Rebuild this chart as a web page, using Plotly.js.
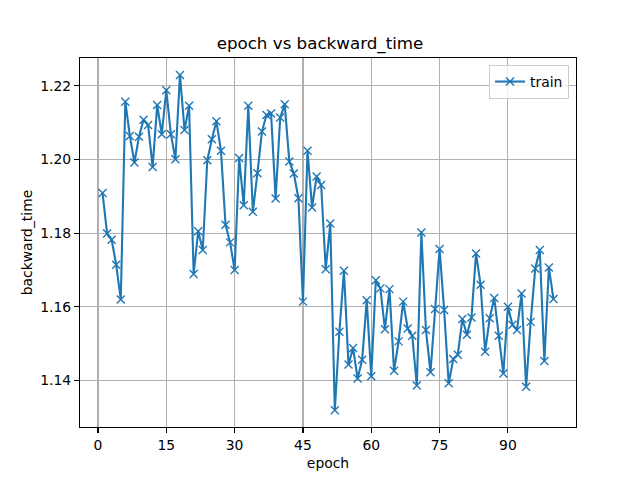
<!DOCTYPE html>
<html>
<head>
<meta charset="utf-8">
<script src="https://cdn.plot.ly/plotly-3.0.1.min.js"></script>
<style>html,body{margin:0;padding:0;background:#fff}#chart{width:640px;height:480px}</style>
</head>
<body>
<div id="chart"></div>
<script>
const epochs = Array.from({length: 100}, (_, i) => i + 1);
const backwardTime = [
  1.1909, 1.1799, 1.1782, 1.1714, 1.1620, 1.2157, 1.2064, 1.1992, 1.2062, 1.2108,
  1.2094, 1.1980, 1.2148, 1.2069, 1.2188, 1.2069, 1.2001, 1.2230, 1.2080, 1.2146,
  1.1689, 1.1805, 1.1754, 1.1998, 1.2055, 1.2104, 1.2024, 1.1823, 1.1775, 1.1700,
  1.2004, 1.1876, 1.2146, 1.1858, 1.1963, 1.2076, 1.2121, 1.2125, 1.1894, 1.2114,
  1.2150, 1.1995, 1.1962, 1.1895, 1.1614, 1.2024, 1.1870, 1.1954, 1.1931, 1.1702,
  1.1826, 1.1319, 1.1532, 1.1698, 1.1443, 1.1488, 1.1405, 1.1456, 1.1618, 1.1411,
  1.1672, 1.1650, 1.1539, 1.1648, 1.1426, 1.1506, 1.1614, 1.1541, 1.1521, 1.1386,
  1.1802, 1.1537, 1.1422, 1.1594, 1.1757, 1.1591, 1.1392, 1.1458, 1.1470, 1.1567,
  1.1524, 1.1571, 1.1745, 1.1660, 1.1478, 1.1569, 1.1624, 1.1521, 1.1419, 1.1600,
  1.1551, 1.1537, 1.1636, 1.1383, 1.1559, 1.1704, 1.1754, 1.1453, 1.1707, 1.1621
];
const xTicks = [0, 15, 30, 45, 60, 75, 90];
const yTicks = [1.14, 1.16, 1.18, 1.20, 1.22];
const yTickLabels = ["1.14", "1.16", "1.18", "1.20", "1.22"];

const font = {family: "DejaVu Sans", size: 13.9, color: "#000"};
const trace = {
  x: epochs, y: backwardTime, type: "scatter", mode: "lines+markers", name: "train",
  line: {color: "#1f77b4", width: 2.1},
  marker: {symbol: "x-thin", size: 8, color: "#1f77b4", line: {color: "#1f77b4", width: 1.4}}
};
const layout = {
  width: 640, height: 480,
  margin: {l: 80, r: 64, t: 58, b: 53, pad: 0},
  paper_bgcolor: "#fff", plot_bgcolor: "#fff",
  font: font,
  title: {text: "epoch vs backward_time", font: {family: "DejaVu Sans", size: 16.7, color: "#000"},
          x: 0.5, xanchor: "center", y: 1 - 43/480, yanchor: "middle"},
  xaxis: {
    title: {text: "epoch", font: font, standoff: 6},
    range: [-3.95, 104.95], tickvals: xTicks, ticktext: xTicks.map(String),
    showgrid: true, gridcolor: "#b0b0b0", gridwidth: 1.1,
    showline: true, linecolor: "#000", linewidth: 1.1, mirror: true,
    ticks: "outside", ticklen: 4.9, tickwidth: 1.1, tickcolor: "#000",
    zeroline: false, tickfont: font
  },
  yaxis: {
    title: {text: "backward_time", font: font, standoff: 4},
    range: [1.12734, 1.22759], tickvals: yTicks, ticktext: yTickLabels,
    showgrid: true, gridcolor: "#b0b0b0", gridwidth: 1.1,
    showline: true, linecolor: "#000", linewidth: 1.1, mirror: true,
    ticks: "outside", ticklen: 4.9, tickwidth: 1.1, tickcolor: "#000",
    zeroline: false, tickfont: font
  },
  showlegend: true,
  legend: {x: 0.986, xanchor: "right", y: 0.981, yanchor: "top",
           bgcolor: "rgba(255,255,255,0.8)", bordercolor: "#cccccc", borderwidth: 1,
           font: font}
};
Plotly.newPlot("chart", [trace], layout, {displayModeBar: false, staticPlot: true});
</script>
</body>
</html>
